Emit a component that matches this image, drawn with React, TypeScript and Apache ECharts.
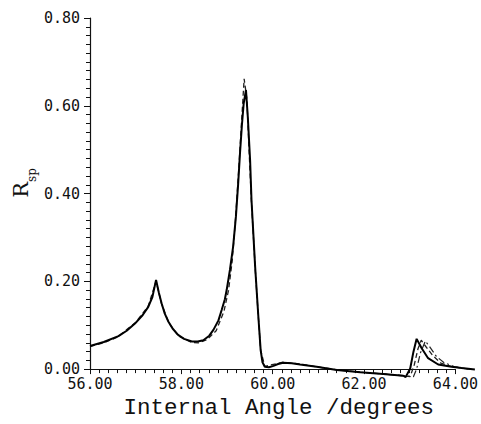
import React, { useEffect, useRef } from "react";
import * as echarts from "echarts";

const xTicks = ["56.00", "58.00", "60.00", "62.00", "64.00"];
const yTicks = ["0.00", "0.20", "0.40", "0.60", "0.80"];

const anglesA = [56.0, 56.3, 56.62, 56.8, 56.98, 57.15, 57.27, 57.36, 57.44, 57.5, 57.56, 57.63, 57.71, 57.8, 57.92, 58.05, 58.22, 58.35, 58.47, 58.6, 58.69, 58.8, 58.87, 58.94, 58.98, 59.05, 59.12, 59.18, 59.23, 59.27, 59.31, 59.35, 59.4, 59.44, 59.49, 59.52, 59.6, 59.67, 59.72, 59.76, 59.81, 59.9, 60.0, 60.1, 60.21, 60.4, 60.58, 60.94, 61.38, 61.89, 62.39, 62.83, 62.88, 62.98, 63.05, 63.12, 63.23, 63.37, 63.59, 63.88, 64.1, 64.39];
const valuesA = [0.071, 0.08, 0.093, 0.105, 0.121, 0.14, 0.158, 0.18, 0.218, 0.19, 0.166, 0.143, 0.125, 0.11, 0.096, 0.087, 0.081, 0.081, 0.084, 0.094, 0.107, 0.128, 0.151, 0.175, 0.196, 0.24, 0.292, 0.358, 0.432, 0.5, 0.56, 0.61, 0.64, 0.58, 0.484, 0.396, 0.247, 0.136, 0.062, 0.035, 0.025, 0.024, 0.027, 0.031, 0.034, 0.033, 0.03, 0.025, 0.018, 0.013, 0.009, 0.005, 0.002, 0.021, 0.058, 0.087, 0.066, 0.044, 0.03, 0.025, 0.022, 0.019];

const anglesB = [56.0, 56.3, 56.6, 57.0, 57.27, 57.44, 57.56, 57.71, 57.92, 58.22, 58.36, 58.55, 58.75, 58.92, 59.02, 59.1, 59.17, 59.24, 59.31, 59.36, 59.42, 59.47, 59.52, 59.6, 59.67, 59.72, 59.81, 60.21, 60.58, 60.94, 61.38, 61.89, 62.39, 62.83, 62.98, 63.07, 63.15, 63.22, 63.32, 63.47, 63.65, 63.9, 64.32];
const valuesB = [0.07, 0.078, 0.091, 0.124, 0.16, 0.215, 0.165, 0.124, 0.094, 0.079, 0.078, 0.085, 0.105, 0.148, 0.195, 0.26, 0.35, 0.46, 0.58, 0.665, 0.62, 0.5, 0.39, 0.245, 0.135, 0.062, 0.026, 0.035, 0.031, 0.025, 0.018, 0.013, 0.009, 0.005, 0.003, 0.03, 0.065, 0.084, 0.07, 0.05, 0.033, 0.025, 0.019];

const anglesC = [62.39, 62.83, 63.05, 63.12, 63.2, 63.31, 63.4, 63.55, 63.72, 63.95, 64.3];
const valuesC = [0.009, 0.005, 0.003, 0.02, 0.055, 0.082, 0.07, 0.048, 0.034, 0.025, 0.019];

const pairs = (xs: number[], ys: number[]) => xs.map((x, i) => [x, ys[i]]);

const monoFont = "'DejaVu Sans Mono', 'Liberation Mono', monospace";

export default function App() {
  const ref = useRef<HTMLDivElement>(null);
  useEffect(() => {
    if (!ref.current) return;
    const chart = echarts.init(ref.current, null, { renderer: "svg" });
    const lineSeries = (data: number[][], lineStyle: any, z: number) => ({
      type: "line",
      data,
      xAxisIndex: 1,
      yAxisIndex: 1,
      showSymbol: false,
      clip: false,
      z,
      lineStyle,
    });
    chart.setOption({
      animation: false,
      backgroundColor: "#ffffff",
      grid: [
        { left: 90, right: 24, top: 18, bottom: 46 },
        { left: 90, right: 5.65, top: 18, bottom: 46 },
      ],
      xAxis: [
        {
          type: "value",
          gridIndex: 0,
          min: 56,
          max: 64,
          interval: 2,
          name: "Internal Angle /degrees",
          nameLocation: "middle",
          nameGap: 21,
          nameTextStyle: {
            color: "#111",
            fontSize: 22.5,
            fontFamily: "'Liberation Mono', monospace",
            padding: [0, 0, 0, 12],
          },
          axisLine: { show: true, onZero: false, lineStyle: { color: "#111", width: 1.2 } },
          axisTick: { show: true, inside: false, length: 5, lineStyle: { color: "#111" } },
          minorTick: { show: true, splitNumber: 10, length: 4, lineStyle: { color: "#111" } },
          splitLine: { show: false },
          axisLabel: {
            color: "#111",
            fontSize: 15,
            fontFamily: monoFont,
            margin: 7,
            formatter: (v: number) => xTicks[Math.round((v - 56) / 2)] ?? "",
          },
        },
        { type: "value", gridIndex: 1, min: 56, max: 64.4, show: false },
      ],
      yAxis: [
        {
          type: "value",
          gridIndex: 0,
          min: 0,
          max: 0.8,
          interval: 0.2,
          axisLine: { show: true, onZero: false, lineStyle: { color: "#111", width: 1.2 } },
          axisTick: { show: true, inside: false, length: 6, lineStyle: { color: "#111" } },
          minorTick: { show: true, splitNumber: 10, length: 4, lineStyle: { color: "#111" } },
          splitLine: { show: false },
          axisLabel: {
            color: "#111",
            fontSize: 15,
            fontFamily: monoFont,
            margin: 10,
            formatter: (v: number) => yTicks[Math.round(v / 0.2)] ?? "",
          },
        },
        { type: "value", gridIndex: 1, min: 0, max: 0.8, show: false },
      ],
      graphic: [
        {
          type: "text",
          x: 24,
          y: 183,
          rotation: Math.PI / 2,
          style: {
            text: "{a|R}{b|sp}",
            align: "center",
            verticalAlign: "middle",
            fill: "#111",
            rich: {
              a: { fontSize: 21, fontFamily: "'DejaVu Serif', serif", verticalAlign: "top", padding: [0, 0, 7, 0], fill: "#111" },
              b: { fontSize: 12, fontFamily: "'DejaVu Serif', serif", verticalAlign: "bottom", fill: "#111" },
            },
          },
        },
      ],
      series: [
        lineSeries(pairs(anglesB, valuesB), { color: "#222", width: 1.3, type: [5, 3] }, 2),
        lineSeries(pairs(anglesC, valuesC), { color: "#222", width: 1.2, type: [7, 3, 2, 3] }, 2),
        lineSeries(pairs(anglesA, valuesA), { color: "#000", width: 2 }, 3),
      ],
    });
    return () => chart.dispose();
  }, []);
  return <div ref={ref} style={{ width: 481, height: 424, position: "absolute", left: 0, top: 0 }} />;
}
